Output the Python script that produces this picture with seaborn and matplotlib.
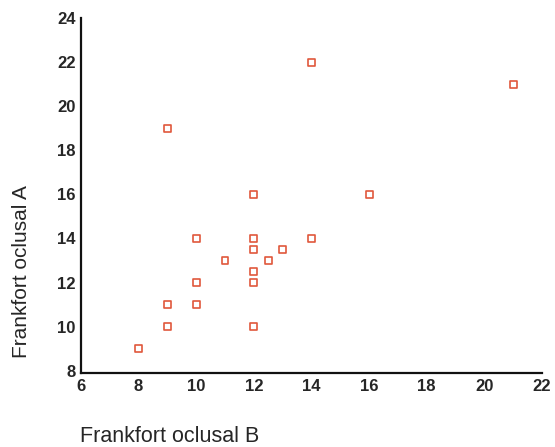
import numpy as np
import pandas as pd
import seaborn as sns
import matplotlib.pyplot as plt

frankfort_b = [8, 9, 9, 9, 10, 10, 10, 11, 12, 12, 12, 12, 12, 12, 12.5, 13, 14, 14, 16, 21]
frankfort_a = [9, 10, 11, 19, 11, 12, 14, 13, 10, 12, 12.5, 13.5, 14, 16, 13, 13.5, 14, 22, 16, 21]
x_ticks = [6, 8, 10, 12, 14, 16, 18, 20, 22]
y_ticks = [8, 10, 12, 14, 16, 18, 20, 22, 24]

df = pd.DataFrame({"Frankfort oclusal B": frankfort_b, "Frankfort oclusal A": frankfort_a})

sns.set_style("white")
plt.rcParams["font.family"] = ["Liberation Sans", "DejaVu Sans"]

fig = plt.figure(figsize=(5.55, 4.47), dpi=100)
ax = fig.add_axes([81 / 555, 1 - 373 / 447, (542 - 81) / 555, (373 - 18) / 447])

sns.scatterplot(
    data=df,
    x="Frankfort oclusal B",
    y="Frankfort oclusal A",
    marker="s",
    s=24,
    facecolor="none",
    edgecolor="#e0583c",
    linewidth=1.2,
    ax=ax,
)

ax.set_xlim(6, 22)
ax.set_ylim(7.9, 24)
ax.set_xticks(x_ticks)
ax.set_yticks(y_ticks)
ax.tick_params(axis="both", direction="inout", length=4, width=2, color="#111111",
               labelsize=12, pad=2)
for lbl in ax.get_xticklabels() + ax.get_yticklabels():
    lbl.set_fontweight("bold")
sns.despine(ax=ax)
for side in ["left", "bottom"]:
    ax.spines[side].set_linewidth(1.6)
    ax.spines[side].set_color("#111111")

ax.set_xlabel("")
ax.set_ylabel("")
fig.text(80 / 555, 1 - 437 / 447, "Frankfort oclusal B", fontsize=15.5,
         ha="left", va="center")
fig.text(22 / 555, 1 - 272 / 447, "Frankfort oclusal A", fontsize=15,
         rotation=90, ha="center", va="center")

fig.savefig("out.png", dpi=100)
plt.close(fig)
